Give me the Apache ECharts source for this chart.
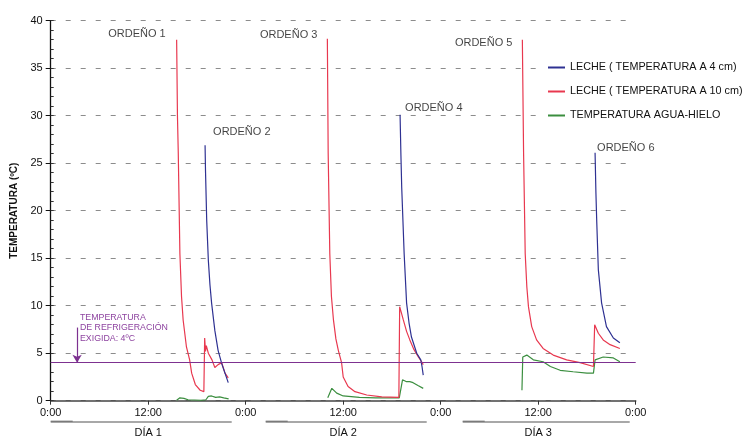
<!DOCTYPE html>
<html><head><meta charset="utf-8">
<script src="https://cdn.jsdelivr.net/npm/echarts@6/dist/echarts.min.js"></script>
<style>html,body{margin:0;padding:0;background:#fff}#c{width:749px;height:439px}</style>
</head><body><div id="c"></div>
<script>
// ---------- data (hour of the 3-day period, temperature ºC) ----------
const xTickLabels = ['0:00','12:00','0:00','12:00','0:00','12:00','0:00'];
const dayLabels = ['DÍA 1','DÍA 2','DÍA 3'];
const seriesNames = ['LECHE ( TEMPERATURA A 4 cm)','LECHE ( TEMPERATURA A 10 cm)','TEMPERATURA AGUA-HIELO'];
const ordenoLabels = ['ORDEÑO 1','ORDEÑO 2','ORDEÑO 3','ORDEÑO 4','ORDEÑO 5','ORDEÑO 6'];
const requiredTemp = 4;
const requiredTempText = 'TEMPERATURA\nDE REFRIGERACIÓN\nEXIGIDA: 4ºC';

const blueDay1 = [[19.0,26.9],[19.05,24.3],[19.2,19.0],[19.4,14.8],[19.6,12.2],[19.8,10.3],[20.2,7.4],[20.6,5.3],[21.05,3.9],[21.45,2.9],[21.85,1.9]];
const blueDay2 = [[43.0,30.1],[43.1,26.0],[43.2,22.5],[43.5,15.5],[43.8,10.3],[44.1,8.2],[44.4,6.7],[45.05,5.0],[45.55,4.3],[45.7,3.6],[45.85,2.7]];
const blueDay3 = [[67.0,26.1],[67.1,22.0],[67.2,19.0],[67.4,13.8],[67.8,10.3],[68.4,7.8],[69.25,6.6],[70.05,6.1]];

const redDay1 = [[15.5,38.0],[15.6,30.0],[15.7,26.1],[15.9,15.5],[16.1,11.0],[16.3,8.5],[16.7,5.7],[17.1,4.3],[17.35,2.9],[17.8,1.7],[18.4,1.1],[18.85,0.95],[18.95,6.6],[19.05,5.2],[19.15,5.8],[19.4,5.0],[19.85,4.3],[20.2,3.5],[20.6,3.8],[21.05,4.0],[21.45,2.9],[21.85,2.4]];
const redDay2 = [[34.05,38.1],[34.15,26.1],[34.35,15.5],[34.55,11.0],[34.8,8.5],[35.1,6.5],[35.4,5.3],[35.8,4.0],[36.0,2.5],[36.6,1.5],[37.45,0.95],[38.9,0.6],[40.75,0.4],[42.85,0.35],[42.95,9.9],[43.4,8.5],[43.8,7.3],[44.2,6.4],[44.7,5.4],[45.25,4.6],[45.65,4.1],[45.85,3.8]];
const redDay3 = [[58.05,38.0],[58.2,26.1],[58.4,15.5],[58.6,12.0],[58.8,9.9],[59.2,7.8],[59.8,6.4],[60.6,5.5],[61.85,4.8],[63.5,4.3],[65.15,4.0],[66.8,3.6],[66.95,8.0],[67.4,7.1],[68.0,6.4],[68.85,5.9],[70.05,5.5]];

const greenDay1 = [[15.5,0.05],[15.9,0.3],[16.4,0.25],[16.9,0.1],[18.5,0.05],[19.1,0.1],[19.4,0.45],[19.8,0.5],[20.3,0.35],[20.8,0.4],[21.3,0.3],[21.9,0.2]];
const greenDay2 = [[34.1,0.3],[34.6,1.3],[35.2,0.8],[36.0,0.5],[38.0,0.35],[40.0,0.3],[42.9,0.3],[43.3,2.2],[43.8,2.0],[44.2,2.0],[44.6,1.9],[45.2,1.6],[45.85,1.3]];
const greenDay3 = [[58.0,1.1],[58.1,4.6],[58.6,4.8],[59.4,4.3],[60.6,4.1],[61.5,3.6],[62.7,3.2],[64.3,3.05],[66.0,2.9],[66.8,2.9],[67.0,4.3],[68.0,4.6],[69.25,4.5],[70.05,4.1]];

// ---------- chart ----------
const FONT = 'Arial, "Liberation Sans", sans-serif';
const C = {blue:'#2e3192', red:'#e8384f', green:'#3b8e3f', purple:'#7d3190', text:'#111'};
const blueDays = [blueDay1, blueDay2, blueDay3];
const redDays = [redDay1, redDay2, redDay3];
const greenDays = [greenDay1, greenDay2, greenDay3];

function peakOf(arr){ return arr.reduce((m,p)=> p[1] > m[1] ? p : m, arr[0]); }
const labelStyle = [
  {align:'right', offset:[-11,-6]},
  {align:'left',  offset:[8,-13]},
  {align:'right', offset:[-10,-4]},
  {align:'left',  offset:[5,-7]},
  {align:'right', offset:[-10,3]},
  {align:'left',  offset:[2,-5]}
];
const labelData = ordenoLabels.map((name,i)=>{
  const d = Math.floor(i/2);
  const pk = (i % 2 === 0) ? peakOf(redDays[d]) : peakOf(blueDays[d]);
  return {value: pk, name, label: Object.assign({show:true, formatter:name, position:'inside', verticalAlign:'middle',
    fontSize:11, color:C.text, fontFamily:FONT}, labelStyle[i])};
});

function line(name, data, color, extra){
  return Object.assign({type:'line', name, data, symbol:'none', showSymbol:false, silent:true, animation:false,
    lineStyle:{color, width:1.2}, itemStyle:{color}, xAxisIndex:0, yAxisIndex:0}, extra || {});
}

const series = [];
greenDays.forEach((d,i)=> series.push(line(seriesNames[2], d, C.green, i===0 ? {
  markLine:{silent:true, animation:false, symbol:'none', label:{show:false},
    lineStyle:{color:C.purple, width:1.2, type:'solid'},
    data:[
      {yAxis: requiredTemp},
      [{coord:[3.25,7.7], symbol:'none'}, {coord:[3.25,requiredTemp], symbol:'arrow', symbolSize:[7,8]}]
    ]}
} : {})));
redDays.forEach(d=> series.push(line(seriesNames[1], d, C.red)));
blueDays.forEach(d=> series.push(line(seriesNames[0], d, C.blue)));
series.push({type:'scatter', data:labelData, symbolSize:1, itemStyle:{color:'rgba(0,0,0,0)'}, silent:true, animation:false, z:5});

const chart = echarts.init(document.getElementById('c'), null, {renderer:'canvas'});
chart.setOption({
  animation:false,
  backgroundColor:'#fff',
  textStyle:{fontFamily:FONT},
  grid:{left:50.7, right:113.3, top:20.7, bottom:38.3, containLabel:false},
  legend:{
    data: seriesNames.map(n=>({name:n, icon:'rect'})), orient:'vertical', left:543, top:57,
    padding:[5,2,5,5], backgroundColor:'#fff',
    itemWidth:17, itemHeight:2, itemGap:13,
    textStyle:{fontSize:10.8, color:C.text, fontFamily:FONT}, selectedMode:false
  },
  xAxis:[
    {type:'value', min:0, max:72, interval:12,
      axisLine:{show:true, lineStyle:{color:'#444', width:1.6}},
      axisTick:{show:true, length:4, lineStyle:{color:'#333'}},
      axisLabel:{show:true, fontSize:11, color:C.text, margin:7, showMinLabel:true, showMaxLabel:true,
        formatter:(v)=> xTickLabels[Math.round(v/12)]},
      splitLine:{show:false}},
    {type:'category', data:dayLabels, position:'bottom', offset:25, boundaryGap:true,
      axisLine:{show:false}, axisTick:{show:false},
      axisLabel:{fontSize:11, color:C.text, margin:2}}
  ],
  yAxis:[
    {type:'value', min:0, max:40, interval:5,
      axisLine:{show:true, lineStyle:{color:'#111', width:1.3}},
      axisTick:{show:true, length:5, lineStyle:{color:'#111'}},
      axisLabel:{fontSize:11, color:C.text, margin:8},
      splitLine:{show:true, lineStyle:{color:'#8c8c8c', width:1, type:[5,10]}},
      name:'TEMPERATURA (ºC)', nameLocation:'middle', nameGap:27,
      nameTextStyle:{fontSize:10, fontWeight:'bold', color:C.text, fontFamily:FONT}},
    {type:'value', min:0, max:40, interval:1, position:'left',
      axisLine:{show:false}, axisTick:{show:true, inside:true, length:3, lineStyle:{color:'#333'}},
      axisLabel:{show:false}, splitLine:{show:false}}
  ],
  series
});

// ---------- annotations drawn from axis scales ----------
const px = h => chart.convertToPixel({xAxisIndex:0}, h);
const py = v => chart.convertToPixel({yAxisIndex:0}, v);
const yUnder = py(0) + 20.5;
const startInset = [0, 20, 22], endInset = [14, 14, 6];
const graphic = [];
for (let d = 0; d < 3; d++){
  const x1 = px(24*d) + startInset[d], x2 = px(24*d+24) - endInset[d];
  graphic.push({type:'line', silent:true, shape:{x1, y1:yUnder+0.8, x2, y2:yUnder+0.8}, style:{stroke:'#a8a8a8', lineWidth:2.2}});
  graphic.push({type:'line', silent:true, shape:{x1, y1:yUnder, x2:x1+22, y2:yUnder}, style:{stroke:'#666', lineWidth:1}});
}
graphic.push({type:'text', silent:true, x:px(3.6), y:py(8.8)-5,
  style:{text:requiredTempText, fill:'#8e44a0', font:'8.8px ' + FONT, lineHeight:10.5, textVerticalAlign:'top', verticalAlign:'top'}});
chart.setOption({graphic});
</script>
</body></html>
